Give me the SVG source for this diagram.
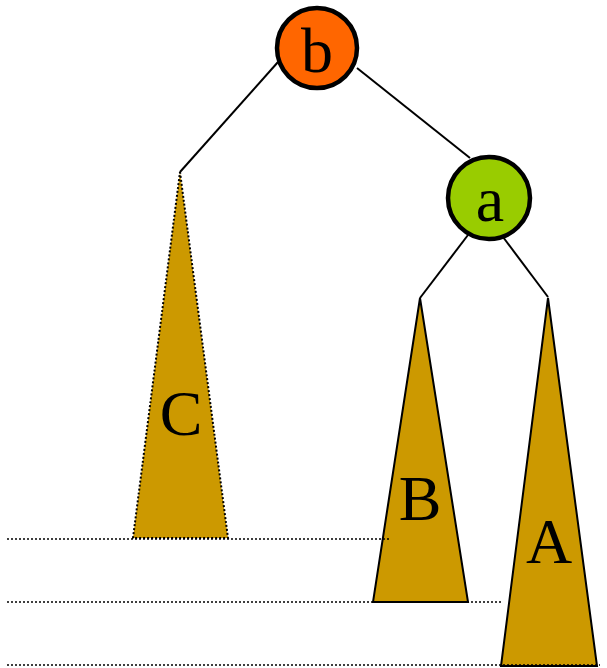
<svg xmlns="http://www.w3.org/2000/svg" width="607" height="668" viewBox="0 0 607 668">
<style>
.node{stroke:#000;stroke-width:4.5}
.lbl{font-family:"Liberation Serif",serif;font-size:64px;text-anchor:middle;fill:#000}
.tri{fill:#CC9900;stroke:#000;stroke-width:2}
.edge{stroke:#000;stroke-width:2;fill:none}
.guide{stroke:#000;stroke-width:1.5;stroke-dasharray:2 2;fill:none}
</style>
<rect width="607" height="668" fill="#fff"/>
<g id="connectors">
<line class="edge" x1="278" y1="62" x2="180" y2="172"/>
<line class="edge" x1="357" y1="68" x2="470" y2="158"/>
<line class="edge" x1="468" y1="235" x2="420" y2="298"/>
<line class="edge" x1="503" y1="237" x2="548" y2="297"/>
</g>
<g id="C">
<polygon class="tri" points="180,172 228,538 133,538" style="stroke-dasharray:2 2"/>
<text class="lbl" x="181" y="435">C</text>
</g>
<g id="B">
<polygon class="tri" points="420,298 468,602 373,602"/>
<text class="lbl" x="420" y="520">B</text>
</g>
<g id="A">
<polygon class="tri" points="548,298 597,666 501,666"/>
<text class="lbl" x="549" y="563">A</text>
</g>
<g id="guides">
<line class="guide" x1="7" y1="539" x2="390" y2="539"/>
<line class="guide" x1="7" y1="602" x2="502" y2="602"/>
<line class="guide" x1="7" y1="665" x2="600" y2="665"/>
</g>
<g id="b">
<circle class="node" cx="317" cy="48" r="40" fill="#FF6600"/>
<text class="lbl" x="317" y="72">b</text>
</g>
<g id="a">
<circle class="node" cx="489" cy="198" r="41" fill="#99CC00"/>
<text class="lbl" x="490" y="221">a</text>
</g>
</svg>
